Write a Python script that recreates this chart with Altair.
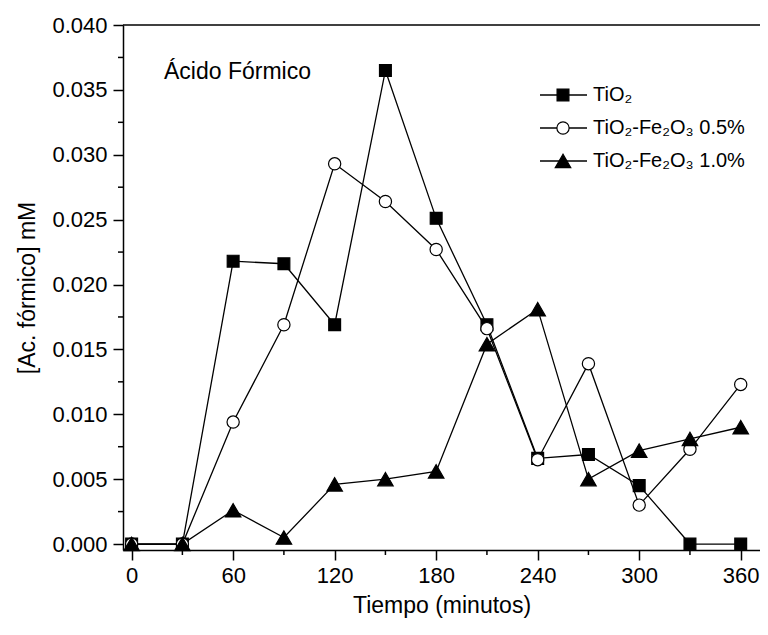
import altair as alt
import pandas as pd

# ---------------- data ----------------
tiempo = [0, 30, 60, 90, 120, 150, 180, 210, 240, 270, 300, 330, 360]
conc_tio2 = [0.0, 0.0, 0.0218, 0.0216, 0.0169, 0.0365, 0.0251, 0.0169, 0.0066, 0.0069, 0.0045, 0.0, 0.0]
conc_fe05 = [0.0, 0.0, 0.0094, 0.0169, 0.0293, 0.0264, 0.0227, 0.0166, 0.0065, 0.0139, 0.0030, 0.0073, 0.0123]
conc_fe10 = [0.0, 0.0, 0.0026, 0.0005, 0.0046, 0.0050, 0.0056, 0.0154, 0.0181, 0.0050, 0.0072, 0.0081, 0.0090]
series_names = ["TiO₂", "TiO₂-Fe₂O₃ 0.5%", "TiO₂-Fe₂O₃ 1.0%"]
series_values = [conc_tio2, conc_fe05, conc_fe10]

x_major = [0, 60, 120, 180, 240, 300, 360]
x_minor = [30, 90, 150, 210, 270, 330]
y_major = [0.000, 0.005, 0.010, 0.015, 0.020, 0.025, 0.030, 0.035, 0.040]
y_minor = [0.0025, 0.0075, 0.0125, 0.0175, 0.0225, 0.0275, 0.0325, 0.0375]

annotation = "Ácido Fórmico"
x_title = "Tiempo (minutos)"
y_title = "[Ac. fórmico] mM"

# ---------------- styling ----------------
W, H = 637, 525
FONT = "Liberation Sans"
shapes = ["square", "circle", "triangle-up"]
fills = ["black", "white", "black"]
sizes = [140, 150, 240]

x_enc = alt.X(
    "tiempo:Q",
    scale=alt.Scale(domain=[-5.1, 371.4], nice=False, zero=False),
    axis=alt.Axis(values=x_major, title=x_title, tickSize=10, labelPadding=5,
                  titlePadding=8, grid=False),
)
y_enc = alt.Y(
    "conc:Q",
    scale=alt.Scale(domain=[-0.00046, 0.040], nice=False, zero=False),
    axis=alt.Axis(values=y_major, format=".3f", title=y_title, tickSize=10,
                  labelPadding=6, titlePadding=12, grid=False),
)

one = pd.DataFrame({"k": [0]})

layers = []

# top frame line
layers.append(
    alt.Chart(one).mark_rule(color="black", strokeWidth=1.5).encode(
        x=alt.value(0), x2=alt.value(W), y=alt.value(0)
    )
)

# minor ticks
layers.append(
    alt.Chart(pd.DataFrame({"tiempo": x_minor})).mark_rule(color="black", strokeWidth=1.5).encode(
        x=x_enc, y=alt.value(H), y2=alt.value(H + 5)
    )
)
layers.append(
    alt.Chart(pd.DataFrame({"conc": y_minor})).mark_rule(color="black", strokeWidth=1.5).encode(
        y=y_enc, x=alt.value(0), x2=alt.value(-5)
    )
)

# lines
for name, vals in zip(series_names, series_values):
    df = pd.DataFrame({"tiempo": tiempo, "conc": vals, "serie": name})
    layers.append(
        alt.Chart(df).mark_line(color="black", strokeWidth=1.3).encode(x=x_enc, y=y_enc)
    )

# points
for name, vals, shp, fl, sz in zip(series_names, series_values, shapes, fills, sizes):
    df = pd.DataFrame({"tiempo": tiempo, "conc": vals, "serie": name})
    layers.append(
        alt.Chart(df).mark_point(shape=shp, size=sz, filled=True, fill=fl, stroke="black",
                                 strokeWidth=1.2, opacity=1).encode(x=x_enc, y=y_enc)
    )

# legend
leg_y0, leg_dy = 70, 33
for i, (name, shp, fl, sz) in enumerate(zip(series_names, shapes, fills, sizes)):
    yy = leg_y0 + i * leg_dy
    d = pd.DataFrame({"label": [name]})
    layers.append(
        alt.Chart(d).mark_rule(color="black", strokeWidth=1.3).encode(
            x=alt.value(417), x2=alt.value(464), y=alt.value(yy)
        )
    )
    layers.append(
        alt.Chart(d).mark_point(shape=shp, size=sz, filled=True, fill=fl, stroke="black",
                                strokeWidth=1.2, opacity=1).encode(
            x=alt.value(440), y=alt.value(yy)
        )
    )
    layers.append(
        alt.Chart(d).mark_text(align="left", baseline="middle", fontSize=20, font=FONT,
                               color="black").encode(
            x=alt.value(470), y=alt.value(yy), text="label:N"
        )
    )

# annotation
layers.append(
    alt.Chart(pd.DataFrame({"label": [annotation]})).mark_text(
        align="left", baseline="middle", fontSize=23, font=FONT, color="black"
    ).encode(x=alt.value(41), y=alt.value(47), text="label:N")
)

chart = (
    alt.layer(*layers)
    .properties(
        width=W,
        height=H,
        padding={"left": 115, "top": 17, "right": 0, "bottom": 70},
        autosize=alt.AutoSizeParams(type="none"),
        background="white",
    )
    .configure(font=FONT)
    .configure_view(stroke=None)
    .configure_axis(
        labelFont=FONT, titleFont=FONT, labelFontSize=22, titleFontSize=23,
        labelColor="black", titleColor="black", domainColor="black", tickColor="black",
        domainWidth=1.5, tickWidth=1.5, titleFontWeight="normal", labelFontWeight="normal",
    )
)

chart.save("out.html", embed_options={"renderer": "svg", "actions": False})
